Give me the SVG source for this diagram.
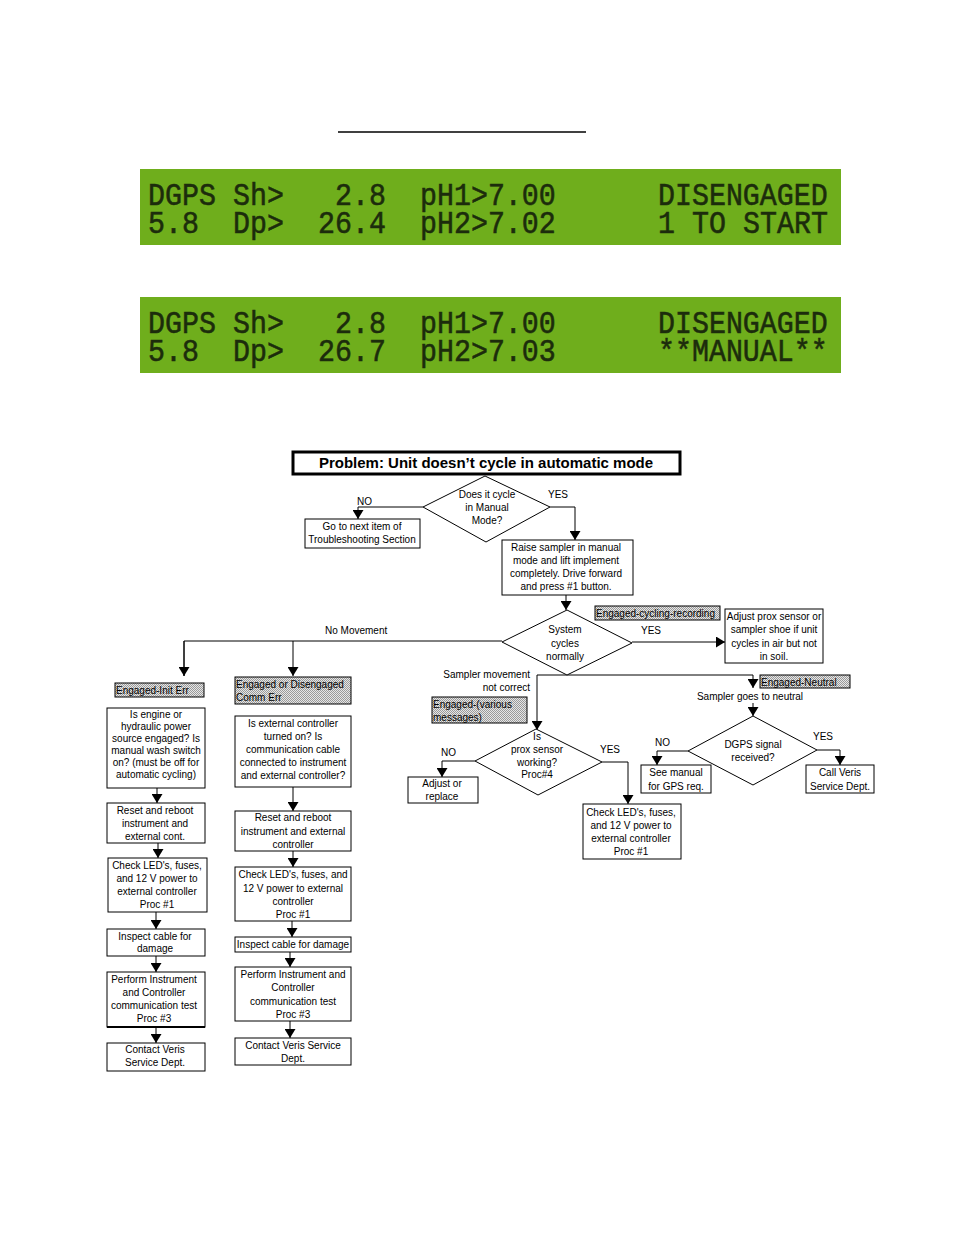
<svg xmlns="http://www.w3.org/2000/svg" width="954" height="1235" viewBox="0 0 954 1235">
<style>
.t{font-family:"Liberation Sans",Arial,sans-serif;font-size:10px;fill:#000;text-anchor:middle}
.tl{font-family:"Liberation Sans",Arial,sans-serif;font-size:10px;fill:#000;text-anchor:start}
.tr{font-family:"Liberation Sans",Arial,sans-serif;font-size:10px;fill:#000;text-anchor:end}
.box{fill:#fff;stroke:#000;stroke-width:1}
.lbl{fill:url(#dither);stroke:#000;stroke-width:1}
.ln{fill:none;stroke:#000;stroke-width:1}
.arr{fill:none;stroke:#000;stroke-width:1;marker-end:url(#ah)}
.lcd{fill:#6fae1c}
.lt{font-family:"Liberation Mono","Courier New",monospace;font-size:28.3px;fill:#1c2c0c;stroke:#1c2c0c;stroke-width:0.5}
</style>
<defs>
<marker id="ah" markerUnits="userSpaceOnUse" markerWidth="9" markerHeight="11" refX="9" refY="5.5" orient="auto">
<path d="M0,0 L9,5.5 L0,11 z" fill="#000"/>
</marker>
<pattern id="dither" width="2" height="2" patternUnits="userSpaceOnUse">
<rect width="2" height="2" fill="#e6e6e6"/>
<rect width="1" height="1" fill="#9a9a9a"/>
<rect x="1" y="1" width="1" height="1" fill="#9a9a9a"/>
</pattern>
</defs>
<rect width="954" height="1235" fill="#fff"/>
<line x1="338" y1="132" x2="586" y2="132" stroke="#000" stroke-width="1.3"/>

<g id="lcd1">
<rect class="lcd" x="140" y="169" width="701" height="76"/>
<text class="lt" transform="translate(0,205) scale(1,1.12)"><tspan x="148" y="0">DGPS</tspan><tspan x="233" y="0">Sh&gt;</tspan><tspan x="335" y="0">2.8</tspan><tspan x="420" y="0">pH1&gt;7.00</tspan><tspan x="658" y="0">DISENGAGED</tspan></text>
<text class="lt" transform="translate(0,233) scale(1,1.12)"><tspan x="148" y="0">5.8</tspan><tspan x="233" y="0">Dp&gt;</tspan><tspan x="318" y="0">26.4</tspan><tspan x="420" y="0">pH2&gt;7.02</tspan><tspan x="658" y="0">1</tspan><tspan x="692" y="0">TO</tspan><tspan x="743" y="0">START</tspan></text>
</g>
<g id="lcd2">
<rect class="lcd" x="140" y="297" width="701" height="76"/>
<text class="lt" transform="translate(0,333) scale(1,1.12)"><tspan x="148" y="0">DGPS</tspan><tspan x="233" y="0">Sh&gt;</tspan><tspan x="335" y="0">2.8</tspan><tspan x="420" y="0">pH1&gt;7.00</tspan><tspan x="658" y="0">DISENGAGED</tspan></text>
<text class="lt" transform="translate(0,361) scale(1,1.12)"><tspan x="148" y="0">5.8</tspan><tspan x="233" y="0">Dp&gt;</tspan><tspan x="318" y="0">26.7</tspan><tspan x="420" y="0">pH2&gt;7.03</tspan><tspan x="658" y="0">**MANUAL**</tspan></text>
</g>

<g id="connectors">
<polyline class="arr" points="423,507 358,507 358,519"/>
<polyline class="arr" points="550,507 575,507 575,540"/>
<line class="arr" x1="566" y1="595" x2="566" y2="610"/>
<line class="arr" x1="632" y1="642" x2="725" y2="642"/>
<polyline class="ln" points="502,641 184,641 184,676"/>
<line class="arr" x1="184" y1="641" x2="184" y2="676"/>
<line class="arr" x1="293" y1="641" x2="293" y2="676"/>
<line class="arr" x1="157" y1="788" x2="157" y2="803"/>
<line class="arr" x1="158" y1="843" x2="158" y2="858"/>
<line class="arr" x1="156" y1="912" x2="156" y2="929"/>
<line class="arr" x1="156" y1="956" x2="156" y2="972"/>
<line class="arr" x1="156" y1="1027" x2="156" y2="1043"/>
<line class="arr" x1="293" y1="787" x2="293" y2="811"/>
<line class="arr" x1="293" y1="851" x2="293" y2="867"/>
<line class="arr" x1="292" y1="921" x2="292" y2="937"/>
<line class="arr" x1="290" y1="952" x2="290" y2="967"/>
<line class="arr" x1="290" y1="1021" x2="290" y2="1038"/>
<polyline class="arr" points="567,675 537,675 537,730"/>
<polyline class="arr" points="567,675 753,675 753,688"/>
<line class="arr" x1="753" y1="703" x2="753" y2="716"/>
<polyline class="arr" points="475,761 442,761 442,777"/>
<polyline class="arr" points="602,762 628,762 628,804"/>
<polyline class="arr" points="688,751 657,751 657,765"/>
<polyline class="arr" points="817,750 840,750 840,765"/>
</g>

<g id="title">
<rect x="293" y="452" width="387" height="22" fill="#fff" stroke="#000" stroke-width="3"/>
<text x="486" y="468" style="font-family:'Liberation Sans',Arial,sans-serif;font-size:15px;font-weight:bold;text-anchor:middle">Problem:  Unit doesn’t cycle in automatic mode</text>
</g>

<g id="d1">
<polygon class="box" points="485,476 550,507 486,542 423,507"/>
<text class="t" x="487" y="498">Does it cycle</text>
<text class="t" x="487" y="511">in Manual</text>
<text class="t" x="487" y="524">Mode?</text>
</g>
<text class="tl" x="357" y="505">NO</text>
<text class="tl" x="548" y="498">YES</text>

<g id="n_next">
<rect class="box" x="305" y="519" width="115" height="29"/>
<text class="t" x="362" y="530">Go to next item of</text>
<text class="t" x="362" y="543">Troubleshooting Section</text>
</g>

<g id="n_raise">
<rect class="box" x="502" y="540" width="131" height="55"/>
<text class="t" x="566" y="551">Raise sampler in manual</text>
<text class="t" x="566" y="564">mode and lift implement</text>
<text class="t" x="566" y="577">completely. Drive forward</text>
<text class="t" x="566" y="590">and press #1 button.</text>
</g>

<g id="d2">
<polygon class="box" points="567,610 632,643 567,675 502,642"/>
<text class="t" x="565" y="633">System</text>
<text class="t" x="565" y="647">cycles</text>
<text class="t" x="565" y="660">normally</text>
</g>
<text class="tl" x="641" y="634">YES</text>
<text class="tl" x="325" y="634">No Movement</text>

<g id="l_cycling">
<rect class="lbl" x="595" y="606" width="125" height="14"/>
<text class="tl" x="596" y="617">Engaged-cycling-recording</text>
</g>

<g id="n_adjust">
<rect class="box" x="725" y="609" width="98" height="54"/>
<text class="t" x="774" y="620">Adjust prox sensor or</text>
<text class="t" x="774" y="633">sampler shoe if unit</text>
<text class="t" x="774" y="647">cycles in air but not</text>
<text class="t" x="774" y="660">in soil.</text>
</g>

<g id="l_init">
<rect class="lbl" x="115" y="683" width="89" height="14"/>
<text class="tl" x="116" y="694">Engaged-Init Err</text>
</g>
<g id="l_comm">
<rect class="lbl" x="235" y="677" width="116" height="27"/>
<text class="tl" x="236" y="688">Engaged or Disengaged</text>
<text class="tl" x="236" y="701">Comm Err</text>
</g>

<g id="L1">
<rect class="box" x="107" y="708" width="98" height="80"/>
<text class="t" x="156" y="718">Is engine or</text>
<text class="t" x="156" y="730">hydraulic power</text>
<text class="t" x="156" y="742">source engaged? Is</text>
<text class="t" x="156" y="754">manual wash switch</text>
<text class="t" x="156" y="766">on? (must be off for</text>
<text class="t" x="156" y="778">automatic cycling)</text>
</g>
<g id="L2">
<rect class="box" x="107" y="803" width="98" height="40"/>
<text class="t" x="155" y="814">Reset and reboot</text>
<text class="t" x="155" y="827">instrument and</text>
<text class="t" x="155" y="840">external cont.</text>
</g>
<g id="L3">
<rect class="box" x="108" y="858" width="99" height="54"/>
<text class="t" x="157" y="869">Check LED's, fuses,</text>
<text class="t" x="157" y="882">and 12 V power to</text>
<text class="t" x="157" y="895">external controller</text>
<text class="t" x="157" y="908">Proc #1</text>
</g>
<g id="L4">
<rect class="box" x="107" y="929" width="98" height="27" stroke-width="1.5"/>
<text class="t" x="155" y="940">Inspect cable for</text>
<text class="t" x="155" y="952">damage</text>
</g>
<g id="L5">
<rect class="box" x="107" y="972" width="98" height="55"/>
<line x1="107" y1="1027" x2="205" y2="1027" stroke="#000" stroke-width="2"/>
<text class="t" x="154" y="983">Perform Instrument</text>
<text class="t" x="154" y="996">and Controller</text>
<text class="t" x="154" y="1009">communication test</text>
<text class="t" x="154" y="1022">Proc #3</text>
</g>
<g id="L6">
<rect class="box" x="107" y="1043" width="98" height="28"/>
<text class="t" x="155" y="1053">Contact Veris</text>
<text class="t" x="155" y="1066">Service Dept.</text>
</g>

<g id="R1">
<rect class="box" x="235" y="716" width="116" height="71"/>
<text class="t" x="293" y="727">Is external controller</text>
<text class="t" x="293" y="740">turned on? Is</text>
<text class="t" x="293" y="753">communication cable</text>
<text class="t" x="293" y="766">connected to instrument</text>
<text class="t" x="293" y="779">and external controller?</text>
</g>
<g id="R2">
<rect class="box" x="235" y="811" width="116" height="40"/>
<text class="t" x="293" y="821">Reset and reboot</text>
<text class="t" x="293" y="835">instrument and external</text>
<text class="t" x="293" y="848">controller</text>
</g>
<g id="R3">
<rect class="box" x="235" y="867" width="116" height="54"/>
<text class="t" x="293" y="878">Check LED's, fuses, and</text>
<text class="t" x="293" y="892">12 V power to external</text>
<text class="t" x="293" y="905">controller</text>
<text class="t" x="293" y="918">Proc #1</text>
</g>
<g id="R4">
<rect class="box" x="235" y="937" width="116" height="15"/>
<text class="t" x="293" y="948">Inspect cable for damage</text>
</g>
<g id="R5">
<rect class="box" x="235" y="967" width="116" height="54"/>
<text class="t" x="293" y="978">Perform Instrument and</text>
<text class="t" x="293" y="991">Controller</text>
<text class="t" x="293" y="1005">communication test</text>
<text class="t" x="293" y="1018">Proc #3</text>
</g>
<g id="R6">
<rect class="box" x="235" y="1038" width="116" height="27"/>
<text class="t" x="293" y="1049">Contact Veris Service</text>
<text class="t" x="293" y="1062">Dept.</text>
</g>

<text class="tr" x="530" y="678">Sampler movement</text>
<text class="tr" x="530" y="691">not correct</text>
<g id="l_various">
<rect class="lbl" x="432" y="697" width="95" height="26"/>
<text class="tl" x="433" y="708">Engaged-(various</text>
<text class="tl" x="433" y="721">messages)</text>
</g>
<g id="l_neutral">
<rect class="lbl" x="760" y="675" width="90" height="13"/>
<text class="tl" x="761" y="686">Engaged-Neutral</text>
</g>
<text class="t" x="750" y="700">Sampler goes to neutral</text>

<g id="d3">
<polygon class="box" points="536,729 602,762 538,795 475,761"/>
<text class="t" x="537" y="740">Is</text>
<text class="t" x="537" y="753">prox sensor</text>
<text class="t" x="537" y="766">working?</text>
<text class="t" x="537" y="778">Proc#4</text>
</g>
<text class="tl" x="441" y="756">NO</text>
<text class="tl" x="600" y="753">YES</text>

<g id="n_adjrep">
<rect class="box" x="408" y="777" width="70" height="26"/>
<text class="t" x="442" y="787">Adjust or</text>
<text class="t" x="442" y="800">replace</text>
</g>
<g id="n_check3">
<rect class="box" x="583" y="804" width="98" height="55"/>
<text class="t" x="631" y="816">Check LED's, fuses,</text>
<text class="t" x="631" y="829">and 12 V power to</text>
<text class="t" x="631" y="842">external controller</text>
<text class="t" x="631" y="855">Proc #1</text>
</g>

<g id="d4">
<polygon class="box" points="753,716 817,750 753,785 688,751"/>
<text class="t" x="753" y="748">DGPS signal</text>
<text class="t" x="753" y="761">received?</text>
</g>
<text class="tl" x="655" y="746">NO</text>
<text class="tl" x="813" y="740">YES</text>

<g id="n_gps">
<rect class="box" x="641" y="765" width="70" height="28"/>
<text class="t" x="676" y="776">See manual</text>
<text class="t" x="676" y="790">for GPS req.</text>
</g>
<g id="n_call">
<rect class="box" x="806" y="765" width="68" height="28"/>
<text class="t" x="840" y="776">Call Veris</text>
<text class="t" x="840" y="790">Service Dept.</text>
</g>
</svg>
